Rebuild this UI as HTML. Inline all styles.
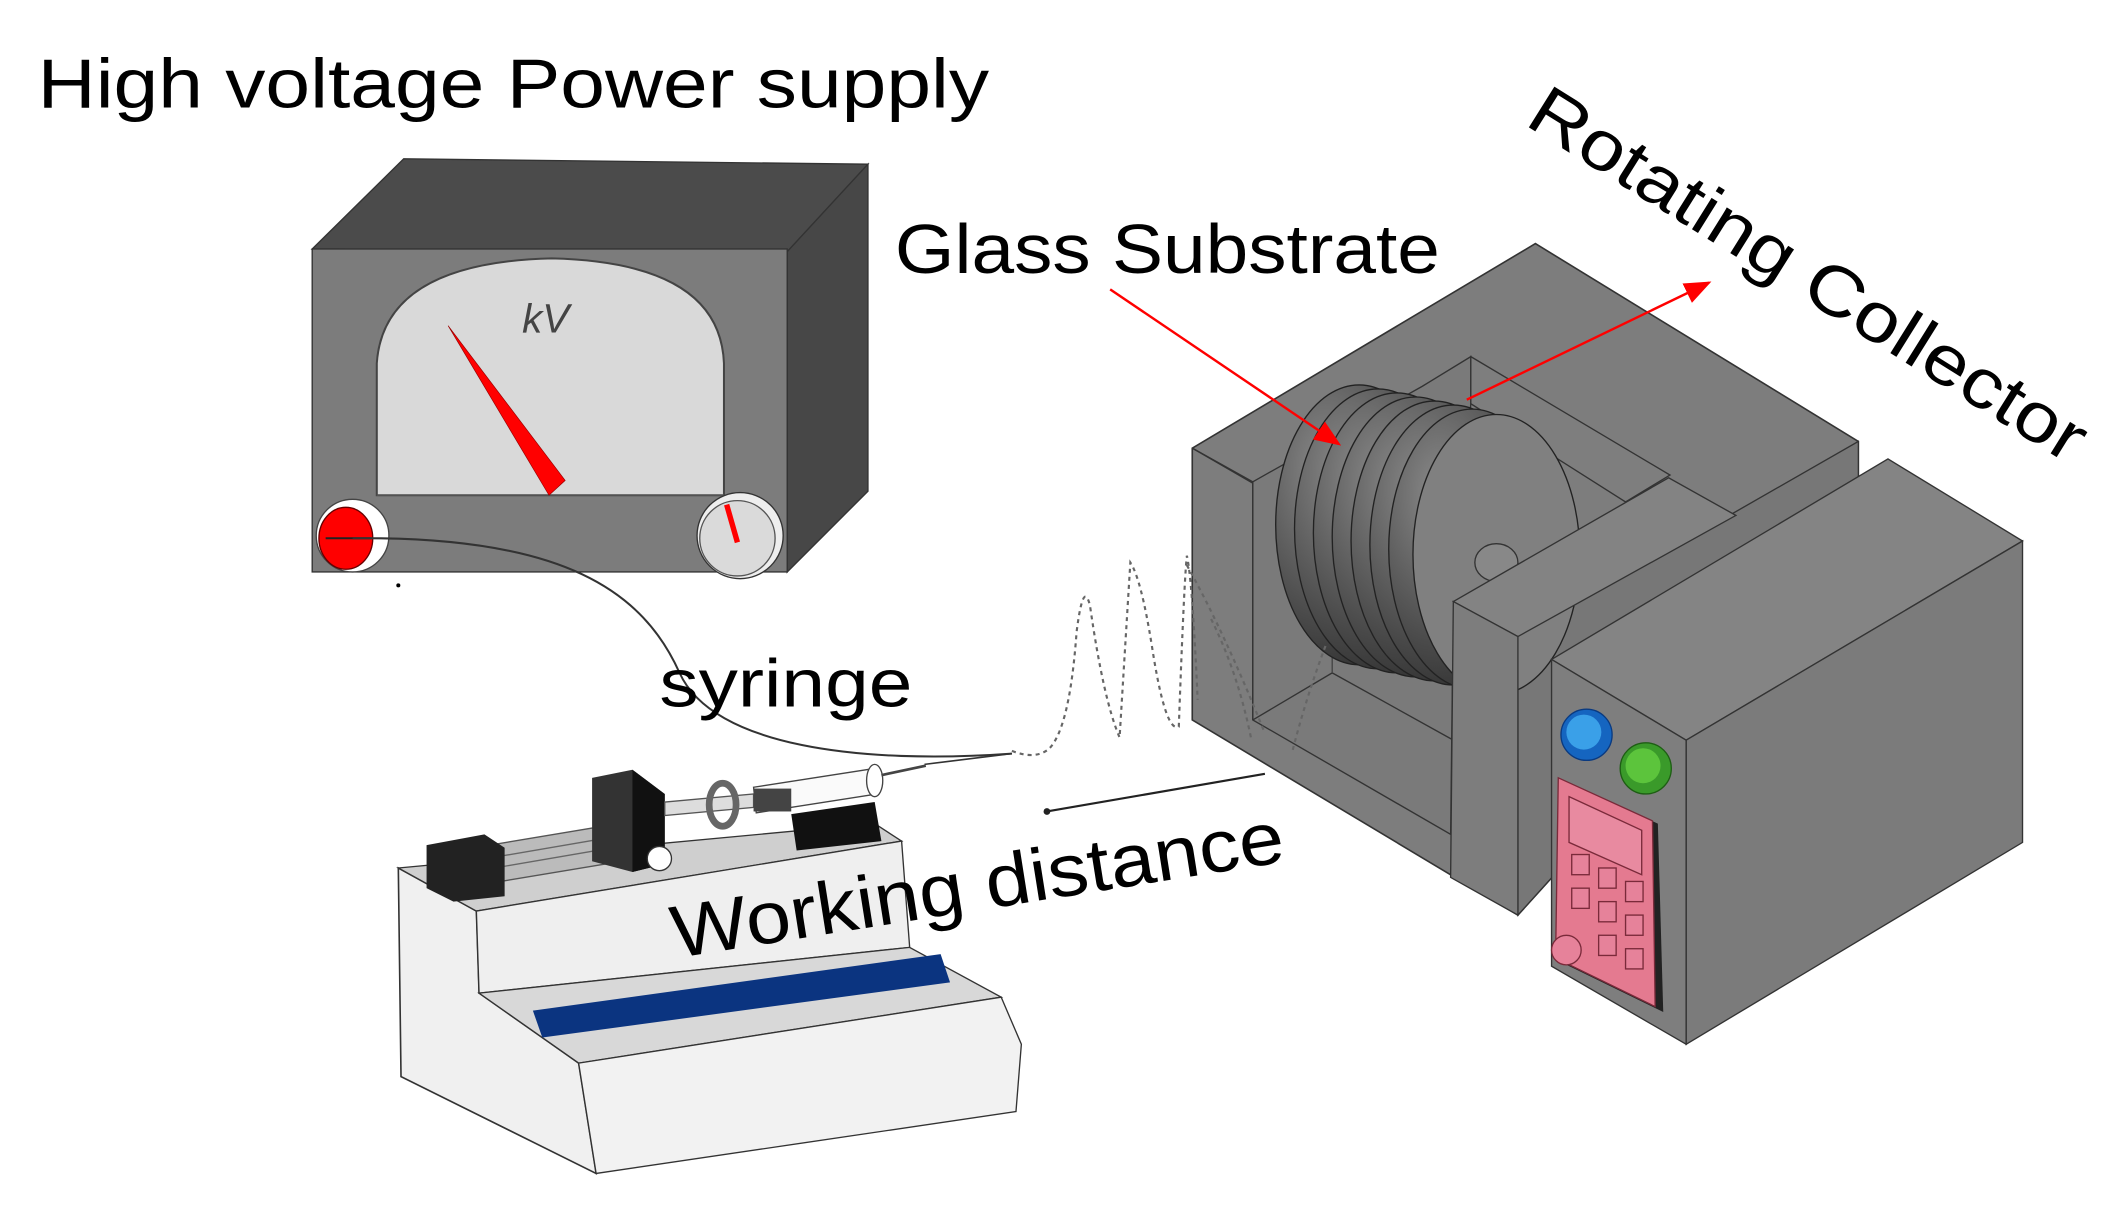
<!DOCTYPE html>
<html><head><meta charset="utf-8"><style>
html,body{margin:0;padding:0;background:#fff;}
svg{display:block;}
text{font-family:"Liberation Sans",sans-serif;fill:#000;}
</style></head><body>
<svg width="2110" height="1230" viewBox="0 0 1568 914" xmlns="http://www.w3.org/2000/svg">
<defs>
<radialGradient id="dg" cx="0.3" cy="0.3" r="0.9">
<stop offset="0" stop-color="#8a8a8a"/><stop offset="0.6" stop-color="#4a4a4a"/><stop offset="1" stop-color="#222"/>
</radialGradient>
<marker id="ar" markerWidth="10" markerHeight="10" refX="9" refY="5" orient="auto" markerUnits="userSpaceOnUse" viewBox="0 0 10 10">
<path d="M0,0 L10,5 L0,10 z" fill="#f00"/></marker>
<marker id="ar2" markerWidth="20" markerHeight="20" refX="18" refY="10" orient="auto" markerUnits="userSpaceOnUse" viewBox="0 0 20 20">
<path d="M0,2 L20,10 L0,18 z" fill="#f00"/></marker>
</defs>

<!-- Labels -->
<text x="28" y="80" font-size="52" textLength="707" lengthAdjust="spacingAndGlyphs">High voltage Power supply</text>
<text x="665" y="203" font-size="52" textLength="405" lengthAdjust="spacingAndGlyphs">Glass Substrate</text>
<text transform="translate(1132,92) rotate(32)" font-size="52" textLength="478" lengthAdjust="spacingAndGlyphs">Rotating Collector</text>

<!-- Power supply -->
<polygon points="232,185 300,118 645,122 585,187" fill="#4b4b4b" stroke="#333"/>
<polygon points="585,187 645,122 645,365 585,425" fill="#474747" stroke="#333"/>
<rect x="232" y="185" width="353" height="240" fill="#7c7c7c" stroke="#333"/>
<path d="M280,368 L280,270 Q285,195 410,192 Q535,195 538,270 L538,368 Z" fill="#d9d9d9" stroke="#444" stroke-width="1.5"/>
<line x1="280" y1="368" x2="538" y2="368" stroke="#555"/>
<text x="388" y="247" font-family="Liberation Serif,serif" font-style="italic" font-size="30" fill="#444" style="fill:#444">kV</text>
<polygon points="333,242 420,357 408,368" fill="#f00" stroke="#900" stroke-width="0.5"/>
<circle cx="262" cy="398" r="27" fill="#fff" stroke="#444"/>
<ellipse cx="257" cy="400" rx="20" ry="23" fill="#f00" stroke="#600"/>
<line x1="242" y1="400" x2="276" y2="400" stroke="#222" stroke-width="1.5"/>
<circle cx="550" cy="398" r="32" fill="#eee" stroke="#333"/>
<circle cx="548" cy="400" r="28" fill="#dadada" stroke="#555"/>
<line x1="540" y1="375" x2="548" y2="403" stroke="#f00" stroke-width="4"/>
<circle cx="296" cy="435" r="1.5" fill="#000"/>

<!-- cable -->
<path d="M262,400 C420,398 478,440 505,500 C530,555 640,568 752,560" fill="none" stroke="#333" stroke-width="1.5"/>

<!-- Collector block -->
<polygon points="886,333 1141,181 1381,328 1381,400 1128,680 886,535" fill="#7d7d7d" stroke="#333" stroke-width="1.2"/>
<polygon points="1128,473 1381,328 1381,400 1128,680" fill="#777" stroke="#333"/>
<line x1="886" y1="333" x2="1128" y2="473" stroke="#333"/>
<!-- opening -->
<polygon points="931,358 1057,287 1093,265 1093,300 1080,447 1078,620 931,535" fill="#7a7a7a" stroke="#333"/>
<polygon points="1093,265 1241,353 1208,373 1093,300" fill="#7e7e7e" stroke="#333"/>
<line x1="931" y1="535" x2="990" y2="500" stroke="#333"/>
<line x1="990" y1="500" x2="1080" y2="550" stroke="#333"/>
<line x1="990" y1="500" x2="990" y2="370" stroke="#444"/>
<line x1="886" y1="333" x2="931" y2="358" stroke="#333"/>
<line x1="931" y1="358" x2="931" y2="535" stroke="#333"/>
<!-- drum disks -->
<g stroke="#222" stroke-width="1">
<ellipse cx="1010" cy="390" rx="62" ry="104" fill="url(#dg)"/>
<ellipse cx="1024" cy="393" rx="62" ry="104" fill="url(#dg)"/>
<ellipse cx="1038" cy="396" rx="62" ry="104" fill="url(#dg)"/>
<ellipse cx="1052" cy="399" rx="62" ry="104" fill="url(#dg)"/>
<ellipse cx="1066" cy="402" rx="62" ry="104" fill="url(#dg)"/>
<ellipse cx="1080" cy="405" rx="62" ry="104" fill="url(#dg)"/>
<ellipse cx="1094" cy="408" rx="62" ry="104" fill="url(#dg)"/>
<ellipse cx="1112" cy="412" rx="62" ry="104" fill="#808080"/>
</g>
<ellipse cx="1112" cy="418" rx="16" ry="14" fill="#888" stroke="#333"/>
<!-- right upright -->
<polygon points="1080,447 1240,355 1290,383 1128,473" fill="#838383" stroke="#333"/>
<polygon points="1080,447 1128,473 1128,680 1078,652" fill="#7d7d7d" stroke="#333"/>

<!-- control box -->
<polygon points="1153,490 1403,341 1503,402 1253,550" fill="#848484" stroke="#333"/>
<polygon points="1253,550 1503,402 1503,626 1253,776" fill="#7b7b7b" stroke="#333"/>
<polygon points="1153,490 1253,550 1253,776 1153,718" fill="#7e7e7e" stroke="#333"/>
<circle cx="1179" cy="546" r="19" fill="#1565c0" stroke="#0a3a80"/>
<circle cx="1177" cy="544" r="13" fill="#3aa0e8"/>
<circle cx="1223" cy="571" r="19" fill="#3a9a2a" stroke="#1e5e14"/>
<circle cx="1221" cy="569" r="13" fill="#5cc43c"/>
<polygon points="1162,580 1232,612 1236,752 1160,715" fill="#222"/>
<polygon points="1158,578 1228,610 1230,748 1156,712" fill="#e47a90" stroke="#7a2a3a"/>
<polygon points="1166,592 1220,617 1220,650 1166,626" fill="#e88aa0" stroke="#7a2a3a"/>
<g fill="#e6829a" stroke="#7a2a3a">
<rect x="1168" y="635" width="13" height="15"/><rect x="1188" y="645" width="13" height="15"/><rect x="1208" y="655" width="13" height="15"/>
<rect x="1168" y="660" width="13" height="15"/><rect x="1188" y="670" width="13" height="15"/><rect x="1208" y="680" width="13" height="15"/>
<rect x="1188" y="695" width="13" height="15"/><rect x="1208" y="705" width="13" height="15"/>
</g>
<circle cx="1164" cy="706" r="11" fill="#e6829a" stroke="#7a2a3a"/>

<!-- red arrows -->
<line x1="825" y1="215" x2="995" y2="330" stroke="#f00" stroke-width="1.8" marker-end="url(#ar2)"/>
<line x1="1090" y1="297" x2="1270" y2="210" stroke="#f00" stroke-width="1.8" marker-end="url(#ar2)"/>

<!-- jet -->
<line x1="687" y1="568" x2="752" y2="560" stroke="#333" stroke-width="1.2"/>
<path d="M752,558 Q770,565 780,556 Q795,540 800,470 Q805,430 810,450 Q820,520 832,548 Q838,450 840,418 Q848,430 856,480 Q866,545 876,540 Q880,430 882,413 Q886,430 890,520 M882,420 Q910,470 940,545 M900,460 Q920,500 930,550 M985,480 Q970,520 960,560" fill="none" stroke="#666" stroke-width="1.6" stroke-dasharray="3,3"/>

<!-- working distance arrow -->
<line x1="940" y1="575" x2="778" y2="603" stroke="#222" stroke-width="1.6"/>
<circle cx="778" cy="603" r="2.5" fill="#222"/>

<!-- syringe pump -->
<polygon points="296,645 354,677 356,738 430,790 443,872 298,800" fill="#f0f0f0" stroke="#333" stroke-width="1.2"/>
<polygon points="296,645 650,612 670,625 354,677" fill="#cfcfcf" stroke="#333"/>
<polygon points="354,677 670,625 676,704 356,738" fill="#efefef" stroke="#333"/>
<polygon points="356,738 676,704 744,741 430,790" fill="#d8d8d8" stroke="#333"/>
<polygon points="396,751 699,709 706,730 403,771" fill="#0b3480"/>
<polygon points="430,790 744,741 759,776 755,826 443,872" fill="#f2f2f2" stroke="#333"/>
<!-- rails -->
<polygon points="340,632 460,612 462,640 342,660" fill="#bbb" stroke="#555"/>
<line x1="350" y1="640" x2="455" y2="622" stroke="#666"/><line x1="350" y1="648" x2="455" y2="630" stroke="#666"/>
<polygon points="317,628 360,620 375,630 375,666 337,670 317,660" fill="#222"/>
<polygon points="440,578 470,572 494,590 494,642 470,648 440,640" fill="#333"/>
<polygon points="470,572 494,590 494,642 470,648" fill="#111"/>
<circle cx="490" cy="638" r="9" fill="#fff" stroke="#333"/>
<!-- syringe -->
<polygon points="494,596 560,590 560,600 494,606" fill="#ddd" stroke="#555"/>
<ellipse cx="537" cy="598" rx="10" ry="16" fill="none" stroke="#666" stroke-width="5"/>
<polygon points="560,585 650,571 652,590 562,604" fill="#fafafa" stroke="#444"/>
<rect x="560" y="586" width="28" height="17" fill="#444"/>
<ellipse cx="650" cy="580" rx="6" ry="12" fill="#fff" stroke="#444"/>
<line x1="655" y1="576" x2="688" y2="569" stroke="#444" stroke-width="2"/>
<polygon points="588,605 650,596 655,625 592,632" fill="#111"/>

<!-- text over -->
<text x="490" y="525" font-size="50" textLength="188" lengthAdjust="spacingAndGlyphs">syringe</text>
<text transform="translate(502,712) rotate(-9)" font-size="55" textLength="460" lengthAdjust="spacingAndGlyphs">Working distance</text>
</svg>
</body></html>
